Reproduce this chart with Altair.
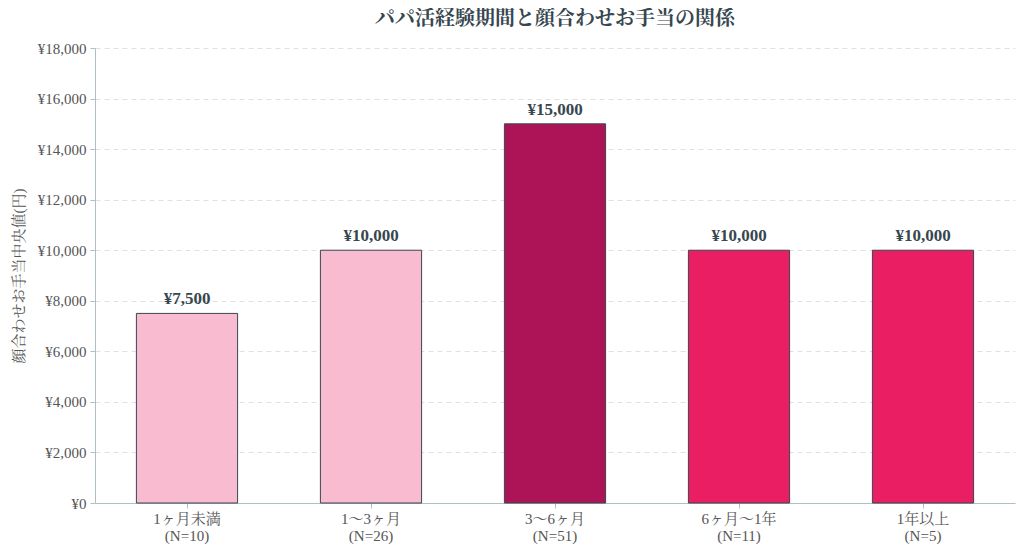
import altair as alt
import pandas as pd

# data
periods = ["1ヶ月未満", "1〜3ヶ月", "3〜6ヶ月", "6ヶ月〜1年", "1年以上"]
counts = [10, 26, 51, 11, 5]
medians = [7500, 10000, 15000, 10000, 10000]
bar_colors = ["#f8bbd0", "#f8bbd0", "#ad1457", "#e91e63", "#e91e63"]

FONT = "'Liberation Serif', 'Noto Serif CJK JP', 'Noto Sans CJK JP', serif"
TEXT = "#37474f"
GREY = "#555555"
AXIS = "#b0bec5"


def build_df():
    labels = [f"{p}\n(N={n})" for p, n in zip(periods, counts)]
    return pd.DataFrame({"期間": labels, "中央値": medians})


def plot_chart():
    df = build_df()

    x = alt.X(
        "期間:N",
        sort=None,
        scale=alt.Scale(paddingInner=0.45, paddingOuter=0.225),
        axis=alt.Axis(
            title=None,
            labelAngle=0,
            labelExpr="split(datum.label, '\\n')",
            labelFont=FONT,
            labelFontSize=15,
            labelColor=GREY,
            labelLineHeight=17,
            labelPadding=3,
            domainColor=AXIS,
            tickColor=AXIS,
            tickSize=5,
        ),
    )

    bars = (
        alt.Chart(df)
        .mark_bar(stroke=TEXT, strokeWidth=1)
        .encode(
            x=x,
            y=alt.Y(
                "中央値:Q",
                scale=alt.Scale(domain=[0, 18000], nice=False),
                axis=alt.Axis(
                    title="顔合わせお手当中央値(円)",
                    titleFont=FONT,
                    titleFontSize=15,
                    titleFontWeight="normal",
                    titleColor=GREY,
                    titlePadding=11,
                    values=list(range(0, 18001, 2000)),
                    labelExpr="'¥' + format(datum.value, ',')",
                    labelFont=FONT,
                    labelFontSize=15,
                    labelColor=GREY,
                    labelPadding=4,
                    domainColor=AXIS,
                    tickColor=AXIS,
                    tickSize=5,
                    gridColor="#e0e0e0",
                    gridDash=[5, 4],
                ),
            ),
            color=alt.Color(
                "期間:N",
                sort=None,
                scale=alt.Scale(domain=list(df["期間"]), range=bar_colors),
                legend=None,
            ),
        )
    )

    text = (
        alt.Chart(df)
        .mark_text(
            baseline="bottom",
            dy=-5,
            font=FONT,
            fontSize=17,
            fontWeight="bold",
            color=TEXT,
        )
        .transform_calculate(lab="'¥' + format(datum['中央値'], ',')")
        .encode(x=x, y="中央値:Q", text="lab:N")
    )

    chart = (
        alt.layer(bars, text)
        .properties(
            width=920,
            height=455,
            autosize=alt.AutoSizeParams(type="none"),
            padding={"left": 87, "top": 40, "right": 1, "bottom": 44},
            title=alt.TitleParams(
                "パパ活経験期間と顔合わせお手当の関係",
                font=FONT,
                fontSize=20,
                fontWeight="bold",
                color=TEXT,
                offset=12,
            ),
        )
        .configure_view(stroke=None)
        .configure_axisX(grid=False)
    )
    return chart


chart = plot_chart()
chart.save("out.html", embed_options={"renderer": "svg", "actions": False})
